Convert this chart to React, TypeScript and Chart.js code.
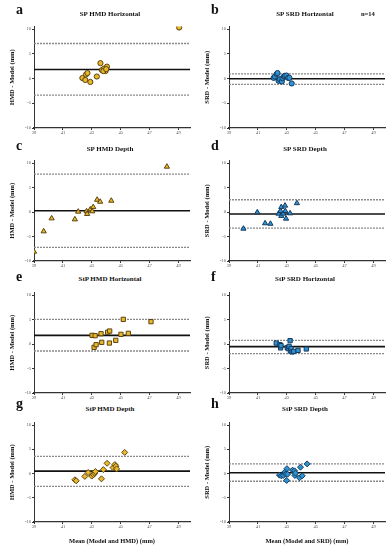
import React, { useEffect, useRef } from "react";
import { Chart, registerables } from "chart.js";

Chart.register(...registerables);

// ---------- data ----------
const X_TICKS = [39, 41, 43, 45, 47, 49];
const Y_TICKS = [-10, -5, 0, 5, 10];
const X_MIN = 39;
const X_MAX = 49.8;
const Y_MIN = -10;
const Y_MAX = 10.5;

const PANEL_LETTERS = ["a", "b", "c", "d", "e", "f", "g", "h"];
const PANEL_TITLES = [
  "SP HMD Horizontal",
  "SP SRD Horizontal",
  "SP HMD Depth",
  "SP SRD Depth",
  "StP HMD Horizontal",
  "StP SRD Horizontal",
  "StP HMD Depth",
  "StP SRD Depth",
];
const Y_TITLES = ["HMD - Model (mm)", "SRD - Model (mm)"];
const X_TITLES = ["Mean (Model and HMD) (mm)", "Mean (Model and SRD) (mm)"];
const N_LABEL = "n=14";

const aMean = [49.05, 42.35, 42.55, 42.6, 42.7, 42.9, 43.35, 43.6, 43.7, 43.85, 43.95, 44.05, 43.8, 44.0];
const aDiff = [10.3, 0.1, -0.3, 0.8, 1.1, -0.7, 0.4, 3.1, 1.7, 2.0, 1.5, 2.4, 1.5, 1.9];

const bMean = [42.09, 42.18, 42.3, 42.36, 42.43, 42.52, 42.66, 42.7, 42.8, 42.86, 42.98, 43.09, 43.18, 43.34];
const bDiff = [0.13, 0.4, 0.9, 1.1, -0.47, -0.13, -0.6, 0.07, 0.4, 0.54, 0.6, 0.13, 0.13, -1.0];

const cMean = [39.0, 39.67, 40.22, 41.83, 42.06, 42.64, 42.68, 42.9, 43.03, 43.1, 43.37, 43.58, 44.35, 48.2];
const cDiff = [-8.1, -3.95, -1.3, -1.5, 0.07, 0.14, -0.4, 0.54, 0.14, 1.0, 2.5, 2.1, 2.3, 9.25];

const dMean = [40.0, 40.96, 41.5, 41.87, 42.43, 42.57, 42.62, 42.62, 42.76, 42.88, 42.9, 42.95, 43.23, 43.7];
const dDiff = [-3.4, -0.07, -2.3, -2.4, -0.34, 0.2, -0.8, 1.0, -0.34, 1.3, 0.2, -1.36, -0.27, 1.8];

const eMean = [43.02, 43.23, 43.16, 43.3, 43.64, 43.69, 44.1, 44.24, 44.22, 44.66, 45.02, 45.18, 45.53, 47.1];
const eDiff = [1.77, 1.7, -0.68, -0.14, 2.1, 0.34, 2.4, 2.65, 0.2, 0.75, 1.97, 5.03, 2.18, 4.56];

const fMean = [42.27, 42.53, 42.57, 42.6, 43.03, 43.1, 43.16, 43.23, 43.25, 43.3, 43.37, 43.48, 43.78, 44.35];
const fDiff = [0.2, -0.14, -0.8, -0.34, -0.75, -0.95, -0.48, 0.68, -1.43, -0.95, -1.63, -1.5, -1.3, -1.02];

const gMean = [41.83, 41.92, 42.52, 42.75, 43.0, 43.12, 43.2, 43.25, 43.67, 43.8, 44.06, 44.47, 44.6, 44.67, 44.72, 45.28];
const gDiff = [-1.3, -1.5, -0.6, 0.2, -0.54, -0.27, 0.07, 0.4, -1.1, 0.8, 2.1, 1.22, 1.84, 1.5, 0.95, 4.35];

const hMean = [42.49, 42.62, 42.76, 42.88, 42.92, 43.01, 42.99, 43.05, 43.4, 43.54, 43.56, 43.6, 43.88, 43.95, 44.07, 44.41];
const hDiff = [-0.34, -0.48, -0.4, 0.34, -0.14, 1.0, -1.43, -0.14, 0.68, 0.55, -0.4, 0.07, -0.88, 1.3, -0.48, 1.98];

const MEANS = [aMean, bMean, cMean, dMean, eMean, fMean, gMean, hMean];
const DIFFS = [aDiff, bDiff, cDiff, dDiff, eDiff, fDiff, gDiff, hDiff];

const BIAS = [1.82, -0.05, 0.27, -0.4, 1.77, -0.54, 0.48, 0.14];
const UPPER_LOA = [7.07, 0.94, 7.75, 2.5, 5.03, 0.75, 3.54, 1.97];
const LOWER_LOA = [-3.37, -1.2, -7.2, -3.3, -1.43, -1.97, -2.65, -1.6];

// ---------- style / layout ----------
const SERIF = "'Liberation Serif', 'DejaVu Serif', serif";
const ROW_STYLES = ["circle", "triangle", "rect", "rectRot"];
const FILL = ["#E9B92A", "#2F93D3"];
const EDGE = ["#5C4210", "#143A5E"];
const Y10 = [29, 163, 295, 425];
const YM10 = [128, 261, 393, 522];
const TITLE_BASE = [16.5, 151.5, 281.7, 411.7];
const LETTER_BASE = [15, 151, 282, 409];
const COL_W = 195;
const PLOT_LEFT = 34;
const PLOT_RIGHT = 192;
const TOP_PAD = 12;

function Panel({ idx }: { idx: number }) {
  const ref = useRef<HTMLCanvasElement | null>(null);
  const row = Math.floor(idx / 2);
  const col = idx % 2;
  const isBottom = row === 3;
  const xh = isBottom ? 28 : 12;
  const pxPerUnit = (YM10[row] - Y10[row]) / 20;
  const topOverhang = (Y_MAX - 10) * pxPerUnit;
  const height = YM10[row] - Y10[row] + TOP_PAD + xh;

  useEffect(() => {
    if (!ref.current) return;
    const pts = MEANS[idx].map((m, i) => ({ x: m, y: DIFFS[idx][i] }));
    const hline = (v: number) => [
      { x: X_MIN, y: v },
      { x: X_MAX, y: v },
    ];
    const chart = new Chart(ref.current, {
      type: "scatter",
      data: {
        datasets: [
          {
            data: pts,
            pointStyle: ROW_STYLES[row] as any,
            pointRadius: row === 0 ? 2.6 : 3,
            backgroundColor: FILL[col],
            borderColor: EDGE[col],
            pointBorderWidth: 1,
            order: 0,
          },
          {
            data: hline(BIAS[idx]),
            showLine: true,
            pointRadius: 0,
            borderColor: "#111111",
            borderWidth: 1.6,
            order: 1,
          },
          {
            data: hline(UPPER_LOA[idx]),
            showLine: true,
            pointRadius: 0,
            borderColor: "#8a8a8a",
            borderWidth: 1.3,
            borderDash: [2, 1],
            order: 1,
          },
          {
            data: hline(LOWER_LOA[idx]),
            showLine: true,
            pointRadius: 0,
            borderColor: "#8a8a8a",
            borderWidth: 1.3,
            borderDash: [2, 1],
            order: 1,
          },
        ],
      },
      options: {
        animation: false,
        responsive: false,
        devicePixelRatio: 1,
        events: [],
        layout: {
          padding: { top: TOP_PAD - topOverhang, left: 0, right: COL_W - PLOT_RIGHT, bottom: 0 },
        },
        plugins: { legend: { display: false }, tooltip: { enabled: false }, title: { display: false } },
        scales: {
          x: {
            type: "linear",
            min: X_MIN,
            max: X_MAX,
            afterBuildTicks: (axis: any) => {
              axis.ticks = X_TICKS.map((v) => ({ value: v }));
            },
            afterFit: (axis: any) => {
              axis.height = xh;
            },
            border: { display: true, color: "#333333", width: 1.2 },
            grid: { display: true, drawOnChartArea: false, drawTicks: true, tickLength: 2, color: "#333333" },
            ticks: {
              padding: 0,
              maxRotation: 0,
              autoSkip: false,
              color: "#555555",
              font: { family: SERIF, size: 4.5 },
            },
            title: {
              display: isBottom,
              text: X_TITLES[col],
              color: "#111111",
              font: { family: SERIF, size: 6.5, weight: "bold" },
              padding: { top: 0, bottom: 5 },
            },
          },
          y: {
            type: "linear",
            min: Y_MIN,
            max: Y_MAX,
            afterBuildTicks: (axis: any) => {
              axis.ticks = Y_TICKS.map((v) => ({ value: v }));
            },
            afterFit: (axis: any) => {
              axis.width = PLOT_LEFT;
            },
            border: { display: true, color: "#333333", width: 1 },
            grid: { display: true, drawOnChartArea: false, drawTicks: true, tickLength: 2, color: "#333333" },
            ticks: {
              padding: 1,
              autoSkip: false,
              color: "#555555",
              font: { family: SERIF, size: 4.5 },
            },
            title: {
              display: true,
              text: Y_TITLES[col],
              color: "#111111",
              font: { family: SERIF, size: 6.5, weight: "bold" },
              padding: { top: 8, bottom: 0 },
            },
          },
        },
      } as any,
    });
    return () => chart.destroy();
  }, [idx]);

  return (
    <div
      style={{
        position: "absolute",
        left: col * COL_W,
        top: Y10[row] - TOP_PAD,
        width: COL_W,
        height,
      }}
    >
      <canvas ref={ref} width={COL_W} height={height} style={{ width: COL_W, height, display: "block" }} />
    </div>
  );
}

function Label({ text, x, base, size, align }: { text: string; x: number; base: number; size: number; align: string }) {
  const w = 140;
  const left = align === "center" ? x - w / 2 : x;
  return (
    <div
      style={{
        position: "absolute",
        left,
        top: base - size * 0.83,
        width: w,
        textAlign: align as any,
        fontFamily: SERIF,
        fontWeight: "bold",
        fontSize: size,
        lineHeight: 1,
        color: "#111",
        whiteSpace: "nowrap",
        background: "transparent",
      }}
    >
      {text}
    </div>
  );
}

export default function App() {
  return (
    <div
      style={{
        position: "absolute",
        left: 0,
        top: 0,
        width: 390,
        height: 550,
        background: "#ffffff",
        overflow: "hidden",
      }}
    >
      {PANEL_TITLES.map((_, i) => (
        <Panel key={"p" + i} idx={i} />
      ))}
      {PANEL_TITLES.map((t, i) => {
        const row = Math.floor(i / 2);
        const col = i % 2;
        return (
          <React.Fragment key={"t" + i}>
            <Label text={t} x={col * COL_W + 110} base={TITLE_BASE[row]} size={7} align="center" />
            <Label text={PANEL_LETTERS[i]} x={col * COL_W + 16} base={LETTER_BASE[row]} size={14} align="left" />
          </React.Fragment>
        );
      })}
      <Label text={N_LABEL} x={361} base={TITLE_BASE[0]} size={6.5} align="left" />
    </div>
  );
}
